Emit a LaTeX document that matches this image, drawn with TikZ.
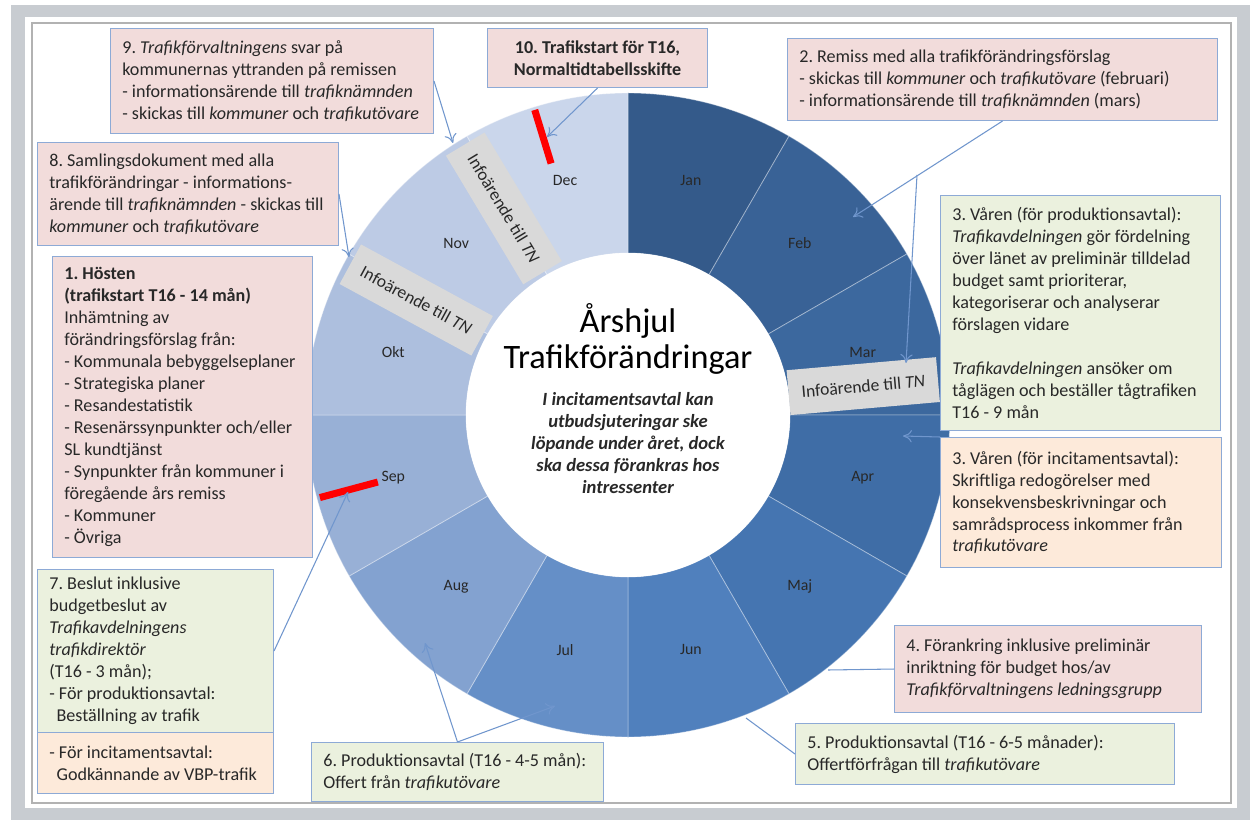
\documentclass[tikz,border=0pt]{standalone}
\usepackage{fontspec}
\setmainfont{Carlito}
\usepackage{tikz}
\usetikzlibrary{arrows.meta}
\frenchspacing

\definecolor{mJan}{RGB}{52,90,138}
\definecolor{mFeb}{RGB}{57,98,150}
\definecolor{mMar}{RGB}{60,104,158}
\definecolor{mApr}{RGB}{63,109,166}
\definecolor{mMaj}{RGB}{69,117,177}
\definecolor{mJun}{RGB}{80,128,189}
\definecolor{mJul}{RGB}{101,143,199}
\definecolor{mAug}{RGB}{131,162,208}
\definecolor{mSep}{RGB}{152,176,214}
\definecolor{mOkt}{RGB}{173,191,222}
\definecolor{mNov}{RGB}{189,203,229}
\definecolor{mDec}{RGB}{202,214,235}
\definecolor{pinkfill}{RGB}{242,220,219}
\definecolor{greenfill}{RGB}{235,241,222}
\definecolor{orangefill}{RGB}{253,234,218}
\definecolor{boxedge}{RGB}{141,170,214}
\definecolor{lineblue}{RGB}{112,150,205}
\definecolor{infogray}{RGB}{217,217,217}
\definecolor{framegray}{RGB}{200,204,209}
\definecolor{txt}{RGB}{40,40,40}

\begin{document}
\begin{tikzpicture}[x=0.02cm,y=-0.02cm,
    box/.style={draw=boxedge, line width=0.6pt, anchor=north west, inner sep=0pt},
    pinkbox/.style={box, fill=pinkfill},
    greenbox/.style={box, fill=greenfill},
    orangebox/.style={box, fill=orangefill},
    boxtext/.style={anchor=west, align=left, inner xsep=0.24cm, inner ysep=0pt,
      text=txt, font=\fontsize{10.3}{12.5}\selectfont},
    infobox/.style={fill=infogray, minimum width=3cm, minimum height=0.9cm,
      inner sep=0pt, text=txt, font=\fontsize{10}{12}\selectfont},
    month/.style={text=txt, font=\fontsize{9}{11}\selectfont},
    conn/.style={draw=lineblue, line width=0.6pt},
    arr/.style={conn, -{To[length=5pt,width=7pt]}},
    marker/.style={draw=red, line width=4pt}]
  \useasboundingbox (0,0) rectangle (1256,820);

  % frame
  \fill[white] (0,0) rectangle (1256,820);
  \fill[framegray] (11,5) rectangle (1250,820);
  \fill[white] (25,17) rectangle (1237,808);
  \draw[gray!60, line width=0.6pt] (32,23) rectangle (1231,803);

  % wheel
  \begin{scope}[shift={(628,415)},x=0.02cm,y=0.02cm]
    \foreach \m/\c [count=\i from 0] in {Jan/mJan,Feb/mFeb,Mar/mMar,Apr/mApr,
        Maj/mMaj,Jun/mJun,Jul/mJul,Aug/mAug,Sep/mSep,Okt/mOkt,Nov/mNov,Dec/mDec}{
      \pgfmathsetmacro\a{90-30*\i}
      \fill[\c, draw=white, draw opacity=0.35, line width=0.5pt]
        (\a:322) arc[start angle=\a, end angle=\a-30, radius=322]
        -- (\a-30:162) arc[start angle=\a-30, end angle=\a, radius=162] -- cycle;
      \node[month] (\m) at (\a-15:243) {\m};
    }
    \fill[white] (0,0) circle[radius=162];
    \node[text=black, align=center, font=\fontsize{19.5}{21}\selectfont] (title) at (0,76)
      {Årshjul\\Trafikförändringar};
    \node[text=txt, align=center, font=\bfseries\itshape\fontsize{10.6}{12.5}\selectfont] (note) at (0,-28)
      {I incitamentsavtal kan\\utbudsjuteringar ske\\löpande under året, dock\\ska dessa förankras hos\\intressenter};

    \node[infobox, rotate=-59] (info1) at (121:241) {Infoärende till \textit{TN}};
    \node[infobox, rotate=-28.5] (info2) at (151.5:241) {Infoärende till \textit{TN}};
    \node[infobox, rotate=5] (info3) at (7:237) {Infoärende till \textit{TN}};

    \draw[marker] (107:263) -- (107:319);
    \draw[marker] (195:259) -- (195:319);
  \end{scope}

  % boxes
  \node[pinkbox, minimum width=6.46cm, minimum height=2.1cm] (b9) at (110,28) {};
  \node[boxtext] (b9t) at (b9.west)
    {9. \textit{Trafikförvaltningens} svar på\\
     kommunernas yttranden på remissen\\
     - informationsärende till \textit{trafiknämnden}\\
     - skickas till \textit{kommuner} och \textit{trafikutövare}};
  \node[pinkbox, minimum width=4.4cm, minimum height=1.18cm] (b10) at (487,28) {};
  \node[boxtext, anchor=center, align=center,
    font=\bfseries\fontsize{10.3}{12.5}\selectfont] (b10t) at (b10.center)
    {10. Trafikstart för T16,\\Normaltidtabellsskifte};
  \node[pinkbox, minimum width=6.02cm, minimum height=2.06cm] (b8) at (37,142) {};
  \node[boxtext] (b8t) at (b8.west)
    {8. Samlingsdokument med alla\\
     trafikförändringar - informations-\\
     ärende till \textit{trafiknämnden} - skickas till\\
     \textit{kommuner} och \textit{trafikutövare}};
  \node[pinkbox, minimum width=5.2cm, minimum height=6.02cm] (b1) at (52,256) {};
  \node[boxtext] (b1t) at (b1.west)
    {\textbf{1. Hösten}\\
     \textbf{(trafikstart T16 - 14 mån)}\\
     Inhämtning av\\
     förändringsförslag från:\\
     - Kommunala bebyggelseplaner\\
     - Strategiska planer\\
     - Resandestatistik\\
     - Resenärssynpunkter och/eller\\
     SL kundtjänst\\
     - Synpunkter från kommuner i\\
     föregående års remiss\\
     - Kommuner\\
     - Övriga};
  \node[pinkbox, minimum width=8.6cm, minimum height=1.64cm] (b2) at (787,38) {};
  \node[boxtext] (b2t) at (b2.west)
    {2. Remiss med alla trafikförändringsförslag\\
     - skickas till \textit{kommuner} och \textit{trafikutövare} (februari)\\
     - informationsärende till \textit{trafiknämnden} (mars)};
  \node[greenbox, minimum width=5.6cm, minimum height=4.7cm] (b3a) at (940,195) {};
  \node[boxtext] (b3at) at (b3a.west)
    {3. Våren (för produktionsavtal):\\
     \textit{Trafikavdelningen} gör fördelning\\
     över länet av preliminär tilldelad\\
     budget samt prioriterar,\\
     kategoriserar och analyserar\\
     förslagen vidare\\[12.5pt]
     \textit{Trafikavdelningen} ansöker om\\
     tåglägen och beställer tågtrafiken\\
     T16 - 9 mån};
  \node[orangebox, minimum width=5.62cm, minimum height=2.6cm] (b3b) at (940,437) {};
  \node[boxtext] (b3bt) at (b3b.west)
    {3. Våren (för incitamentsavtal):\\
     Skriftliga redogörelser med\\
     konsekvensbeskrivningar och\\
     samrådsprocess inkommer från\\
     \textit{trafikutövare}};
  \node[pinkbox, minimum width=6.14cm, minimum height=1.74cm] (b4) at (894,625) {};
  \node[boxtext] (b4t) at (b4.west)
    {4. Förankring inklusive preliminär\\
     inriktning för budget hos/av\\
     \textit{Trafikförvaltningens ledningsgrupp}};
  \node[greenbox, minimum width=7.58cm, minimum height=1.22cm] (b5) at (795,723) {};
  \node[boxtext] (b5t) at (b5.west)
    {5. Produktionsavtal (T16 - 6-5 månader):\\
     Offertförfrågan till \textit{trafikutövare}};
  \node[greenbox, minimum width=5.84cm, minimum height=1.18cm] (b6) at (311,742) {};
  \node[boxtext] (b6t) at (b6.west)
    {6. Produktionsavtal (T16 - 4-5 mån):\\
     Offert från \textit{trafikutövare}};
  \node[greenbox, minimum width=4.72cm, minimum height=3.26cm] (b7) at (37,569) {};
  \node[boxtext] (b7t) at (b7.west)
    {7. Beslut inklusive\\
     budgetbeslut av\\
     \textit{Trafikavdelningens}\\
     \textit{trafikdirektör}\\
     (T16 - 3 mån);\\
     - För produktionsavtal:\\
     \hspace*{0.4em}Beställning av trafik};
  \node[orangebox, minimum width=4.72cm, minimum height=1.22cm] (b7b) at (37,732) {};
  \node[boxtext] (b7bt) at (b7b.west)
    {- För incitamentsavtal:\\
     \hspace*{0.4em}Godkännande av VBP-trafik};

  % connectors
  \coordinate (t9) at (453,143);
  \coordinate (t10) at (547,137);
  \coordinate (t8) at (349,257);
  \coordinate (tFeb) at (853,217);
  \coordinate (br2) at (917,175);
  \coordinate (tInfo) at (906,363);
  \coordinate (t3) at (903,436);
  \coordinate (t4) at (828,670);
  \coordinate (t5) at (746,718);
  \coordinate (t6a) at (425,643);
  \coordinate (t6b) at (555,706);
  \coordinate (t7) at (348,492);

  \draw[arr] (b9.east) -- (t9);
  \draw[arr] (b10.south) -- (t10);
  \draw[arr] (b8.east) -- (t8);
  \draw[arr] (b2.south) -- (tFeb);
  \draw[arr] (br2) -- (tInfo);
  \draw[arr] (b3b.north west) -- (t3);
  \draw[conn] (b4.west) -- (t4);
  \draw[conn] (b5.west) -- (t5);
  \draw[arr] (b6.north) -- (t6a);
  \draw[arr] (b6.north) -- (t6b);
  \draw[arr] (b7.east) -- (t7);
\end{tikzpicture}
\end{document}
